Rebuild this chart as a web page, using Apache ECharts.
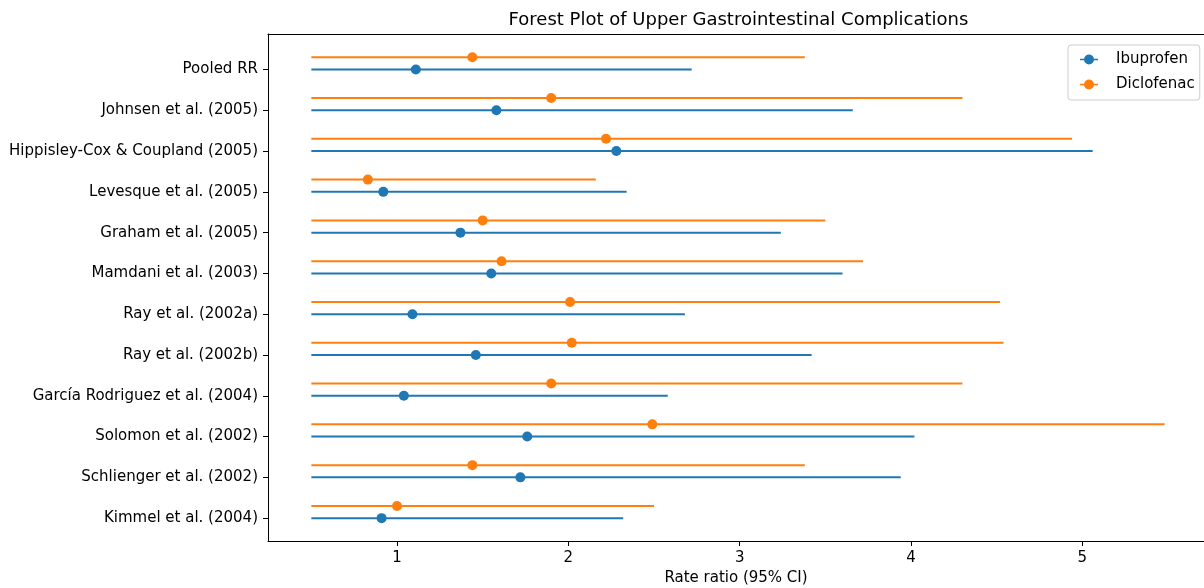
<!DOCTYPE html>
<html>
<head>
<meta charset="utf-8">
<script src="https://cdn.jsdelivr.net/npm/echarts@6/dist/echarts.min.js"></script>
<style>
html,body{margin:0;padding:0;background:#fff;}
#chart{width:1204px;height:588px;}
</style>
</head>
<body>
<div id="chart"></div>
<script>
// Categories listed top to bottom as they appear
const categories = [
  'Pooled RR',
  'Johnsen et al. (2005)',
  'Hippisley-Cox & Coupland (2005)',
  'Levesque et al. (2005)',
  'Graham et al. (2005)',
  'Mamdani et al. (2003)',
  'Ray et al. (2002a)',
  'Ray et al. (2002b)',
  'García Rodriguez et al. (2004)',
  'Solomon et al. (2002)',
  'Schlienger et al. (2002)',
  'Kimmel et al. (2004)'
];
const ibuRR   = [1.11, 1.58, 2.28, 0.92, 1.37, 1.55, 1.09, 1.46, 1.04, 1.76, 1.72, 0.91];
const ibuLow  = [0.5, 0.5, 0.5, 0.5, 0.5, 0.5, 0.5, 0.5, 0.5, 0.5, 0.5, 0.5];
const ibuHigh = [2.72, 3.66, 5.06, 2.34, 3.24, 3.60, 2.68, 3.42, 2.58, 4.02, 3.94, 2.32];
const dicRR   = [1.44, 1.90, 2.22, 0.83, 1.50, 1.61, 2.01, 2.02, 1.90, 2.49, 1.44, 1.00];
const dicLow  = [0.5, 0.5, 0.5, 0.5, 0.5, 0.5, 0.5, 0.5, 0.5, 0.5, 0.5, 0.5];
const dicHigh = [3.38, 4.30, 4.94, 2.16, 3.50, 3.72, 4.52, 4.54, 4.30, 5.48, 3.38, 2.50];
const xTicks = [1, 2, 3, 4, 5];
const seriesNames = ['Ibuprofen', 'Diclofenac'];

const FONT = 'DejaVu Sans';
const BLUE = '#1f77b4';
const ORANGE = '#ff7f0e';
const DIC_OFFSET = 0.3;
const n = categories.length;
const rowY = i => n - 1 - i;

function barData(low, high, off) {
  return categories.map((c, i) => [low[i], high[i], rowY(i) + off]);
}
function ptData(rr, off) {
  return categories.map((c, i) => [rr[i], rowY(i) + off]);
}
function barRenderer(color) {
  return function (params, api) {
    const y = api.value(2);
    const p1 = api.coord([api.value(0), y]);
    const p2 = api.coord([api.value(1), y]);
    return {
      type: 'line',
      shape: { x1: p1[0], y1: p1[1], x2: p2[0], y2: p2[1] },
      style: { stroke: color, lineWidth: 2, lineCap: 'butt' }
    };
  };
}
const iconPath = 'path://M0,4.2 L18,4.2 L18,5.8 L0,5.8 Z M14,5 A5,5 0 1,1 4,5 A5,5 0 1,1 14,5 Z';

const chart = echarts.init(document.getElementById('chart'), null, { renderer: 'canvas' });
chart.setOption({
  animation: false,
  backgroundColor: '#fff',
  title: {
    text: 'Forest Plot of Upper Gastrointestinal Complications',
    left: 738.5,
    top: 11,
    padding: 0,
    textAlign: 'center',
    textStyle: { fontFamily: FONT, fontSize: 18, fontWeight: 'normal', color: '#000' }
  },
  legend: {
    orient: 'vertical',
    left: 1068,
    top: 45,
    padding: [7, 5, 8, 12],
    itemGap: 10,
    itemWidth: 18,
    itemHeight: 10,
    backgroundColor: 'rgba(255,255,255,0.8)',
    borderColor: '#cccccc',
    borderWidth: 1,
    borderRadius: 3,
    data: seriesNames.map((nm, k) => ({ name: nm, icon: iconPath, itemStyle: { color: k ? ORANGE : BLUE } })),
    textStyle: { fontFamily: FONT, fontSize: 15, color: '#000', padding: [0, 0, 0, 13] }
  },
  grid: {
    left: 268,
    top: 34,
    right: 0,
    bottom: 47,
    show: false,
    containLabel: false,
    outerBoundsMode: 'none'
  },
  xAxis: [
    {
      type: 'value',
      position: 'bottom',
      min: 0.247,
      max: 5.71,
      name: 'Rate ratio (95% CI)',
      nameLocation: 'middle',
      nameGap: 30,
      nameTextStyle: { fontFamily: FONT, fontSize: 15, color: '#000', verticalAlign: 'top' },
      axisLine: { show: true, onZero: false, lineStyle: { color: '#000', width: 1 } },
      axisTick: { show: true, length: 5, customValues: xTicks, lineStyle: { color: '#000', width: 1 } },
      axisLabel: { customValues: xTicks, margin: 10, fontFamily: FONT, fontSize: 15, color: '#000' },
      splitLine: { show: false }
    },
    {
      type: 'value',
      position: 'top',
      min: 0.247,
      max: 5.71,
      axisLine: { show: true, onZero: false, lineStyle: { color: '#000', width: 1 } },
      axisTick: { show: false },
      axisLabel: { show: false },
      splitLine: { show: false }
    }
  ],
  yAxis: {
    type: 'value',
    min: -0.56,
    max: 11.87,
    axisLine: { show: true, onZero: false, lineStyle: { color: '#000', width: 1 } },
    axisTick: { show: true, length: 5, customValues: categories.map((c, i) => rowY(i)), lineStyle: { color: '#000', width: 1 } },
    axisLabel: {
      customValues: categories.map((c, i) => rowY(i)),
      margin: 10,
      fontFamily: FONT, fontSize: 15, color: '#000',
      formatter: v => categories[n - 1 - Math.round(v)]
    },
    splitLine: { show: false }
  },
  series: [
    {
      name: 'Ibuprofen', type: 'custom', renderItem: barRenderer(BLUE),
      data: barData(ibuLow, ibuHigh, 0), encode: { x: [0, 1], y: 2 }, z: 2, silent: true
    },
    {
      name: 'Ibuprofen', type: 'scatter', data: ptData(ibuRR, 0),
      symbol: 'circle', symbolSize: 10, itemStyle: { color: BLUE, opacity: 1 }, z: 3
    },
    {
      name: 'Diclofenac', type: 'custom', renderItem: barRenderer(ORANGE),
      data: barData(dicLow, dicHigh, DIC_OFFSET), encode: { x: [0, 1], y: 2 }, z: 4, silent: true
    },
    {
      name: 'Diclofenac', type: 'scatter', data: ptData(dicRR, DIC_OFFSET),
      symbol: 'circle', symbolSize: 10, itemStyle: { color: ORANGE, opacity: 1 }, z: 5
    }
  ]
});
</script>
</body>
</html>
